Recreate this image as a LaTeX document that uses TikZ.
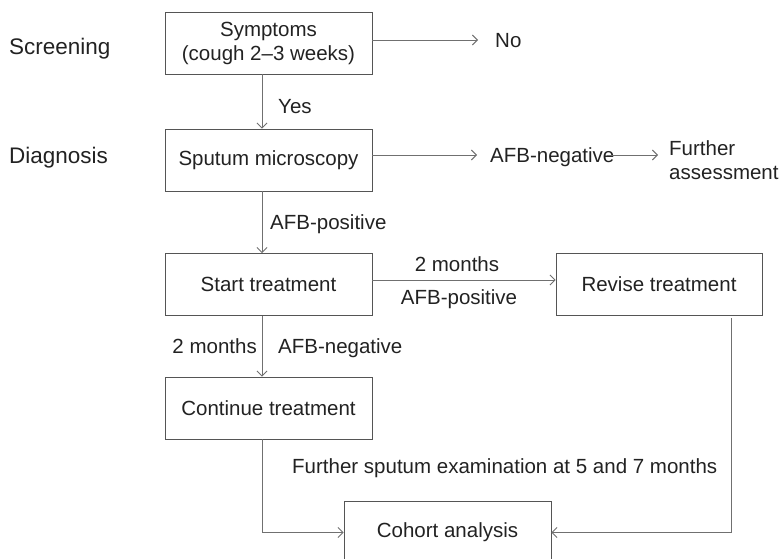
\documentclass[tikz,border=0pt]{standalone}
\usepackage{fontspec}
\setmainfont{Liberation Sans}
\usetikzlibrary{arrows.meta}
\definecolor{txt}{HTML}{222222}
\definecolor{boxc}{HTML}{555555}
\definecolor{linec}{HTML}{707070}
\begin{document}
\begin{tikzpicture}[x=1pt,y=-1pt,
  every node/.style={font=\fontsize{20.5pt}{24pt}\selectfont, text=txt},
  box/.style={draw=boxc, line width=0.9pt, minimum width=207pt, minimum height=62pt, inner sep=0pt, align=center},
  lbl/.style={inner sep=0pt, text height=14.6pt, text depth=0pt},
  stage/.style={inner sep=0pt, text height=16.1pt, text depth=0pt, anchor=west, font=\fontsize{22.5pt}{26pt}\selectfont},
  conn/.style={draw=linec, line width=0.9pt},
  arr/.style={conn, -{Straight Barb[length=5pt,width=10pt]}},
]
\path[use as bounding box] (0,0) rectangle (781,559);
\clip (0,0) rectangle (781,559);

% stage labels
\node[stage] (screening) at (9,46) {Screening};
\node[stage] (diagnosis) at (9,155) {Diagnosis};

% boxes
\node[box] (sym) at (268.5,43) {Symptoms\\(cough 2–3 weeks)};
\node[box] (spu) at (268.5,160) {Sputum microscopy};
\node[box] (start) at (268.5,284.5) {Start treatment};
\node[box, minimum width=206pt] (revise) at (659,284) {Revise treatment};
\node[box] (cont) at (268.5,408) {Continue treatment};
\node[box] (cohort) at (447.5,532.5) {Cohort analysis};

% free labels
\node[lbl, anchor=west] (no) at (495,40) {No};
\node[lbl, anchor=west] (afbneg) at (490,155) {AFB-negative};
\node[inner sep=0pt, anchor=west, align=left] (further) at (669,160) {Further\\assessment};
\node[lbl, anchor=west] (yes) at (278,106) {Yes};
\node[lbl, anchor=west] (afbpos) at (270,222) {AFB-positive};
\node[lbl] (mon1) at (457,264) {2 months};
\node[lbl] (afbpos2) at (459,297) {AFB-positive};
\node[lbl, anchor=east] (mon2) at (257,346) {2 months};
\node[lbl, anchor=west] (afbneg2) at (278,346) {AFB-negative};
\node[lbl, anchor=west] (exam) at (292,466) {Further sputum examination at 5 and 7 months};

% connectors
\draw[arr] ([yshift=3pt]sym.east) -- ([xshift=-17pt]no.west);
\draw[arr] ([xshift=-6.5pt]sym.south) -- ([xshift=-6.5pt]spu.north);
\draw[arr] ([yshift=5pt]spu.east) -- ([xshift=-13pt]afbneg.west);
\draw[arr] ([xshift=-8pt]afbneg.east) -- ([xshift=-11pt]further.west |- afbneg.east);
\draw[arr] ([xshift=-6.5pt]spu.south) -- ([xshift=-6.5pt]start.north);
\draw[arr] ([yshift=4.5pt]start.east) -- ([yshift=4pt]revise.west);
\draw[arr] ([xshift=-6.5pt]start.south) -- ([xshift=-6.5pt]cont.north);
\draw[arr] ([xshift=-6.5pt]cont.south) |- (cohort.west);
\draw[arr] ([xshift=72pt,yshift=-3pt]revise.south) |- (cohort.east);
\end{tikzpicture}
\end{document}
